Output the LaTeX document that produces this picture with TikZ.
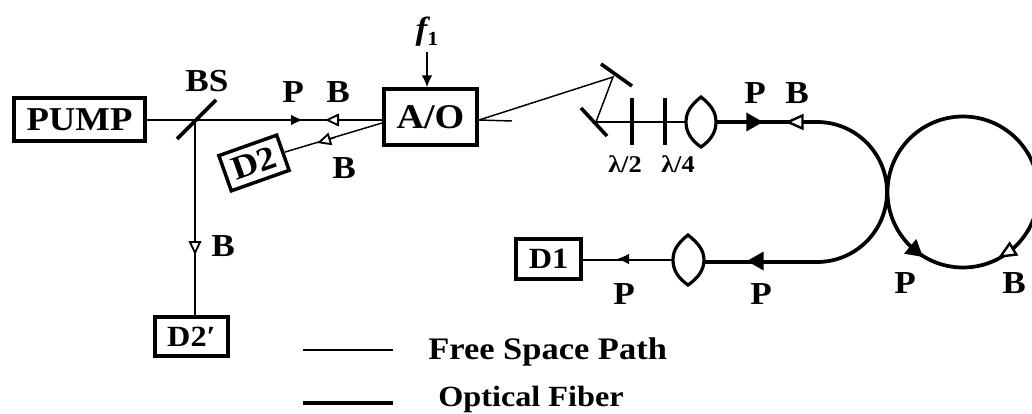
\documentclass[tikz,border=0pt]{standalone}
\usepackage{fontspec}
\setmainfont{Liberation Serif}[FakeStretch=1.1]
\usetikzlibrary{arrows.meta,calc}
\newcommand{\fs}[1]{\fontsize{#1}{#1}\selectfont}
\tikzset{
 x=0.75pt,y=-0.75pt,
 boxn/.style={draw,line width=2.6pt,inner sep=0pt,font=\bfseries\fs{25}},
 lab/.style={font=\bfseries\fs{24},inner sep=0pt},
 plate lab/.style={font=\bfseries\fs{18},inner sep=0pt},
 legend lab/.style={font=\bfseries\fs{23.5},inner sep=0pt,anchor=west},
 beam/.style={line width=1.1pt},
 fibre/.style={line width=2.8pt},
 mirror/.style={line width=2.7pt},
 lens/.style={line width=2.4pt,fill=white},
 solidthin/.style={line width=1.1pt,-{Latex[length=9pt,width=8pt]}},
 openthin/.style={line width=1.1pt,-{Triangle[length=10.5pt,width=9.5pt,fill=white,line width=1.4pt]}},
 solidthick/.style={line width=1.1pt,-{Triangle[length=12.5pt,width=14pt]}},
 openthick/.style={line width=1.1pt,-{Triangle[length=14pt,width=12pt,fill=white,line width=1.8pt]}},
}
\begin{document}
\begin{tikzpicture}
\useasboundingbox (0,0) rectangle (1032,414);
\clip (0,0) rectangle (1032,414);
% boxes
\node[boxn,minimum width=98.5pt,minimum height=32.5pt] (pump) at (79.5,119.5) {PUMP};
\node[boxn,minimum width=70pt,minimum height=42pt,font=\bfseries\fs{26}] (ao) at (430.5,117) {A/O};
\node[boxn,minimum width=46pt,minimum height=28pt,rotate=19.5,font=\bfseries\fs{25}] (d2) at (254,163) {D2};
\node[boxn,minimum width=55pt,minimum height=29.5pt,font=\bfseries\fs{22}] (d2p) at (191.5,336.5) {D2′};
\node[boxn,minimum width=49pt,minimum height=30pt,font=\bfseries\fs{22}] (d1) at (548.5,259) {D1};
% labels
\node[lab] (bslab) at (207,81) {BS};
\node[lab] (p1) at (293,92) {P};
\node[lab] (b1) at (338,92) {B};
\node[lab] (b2) at (344,168) {B};
\node[lab] (b3) at (223,246) {B};
\node[lab,font=\bfseries\itshape\fs{24}] (f1) at (427,32) {f\raisebox{-4pt}{\upshape\fs{15}1}};
\node[lab] (p2) at (755,93) {P};
\node[lab] (b4) at (797,93) {B};
\node[lab] (p3) at (624,294) {P};
\node[lab] (p4) at (761,294) {P};
\node[lab] (p5) at (905,283) {P};
\node[lab] (b5) at (1014,283) {B};
\node[plate lab] (l2) at (625,164) {λ/2};
\node[plate lab] (l4) at (678,164) {λ/4};
% beam splitter and pump beam
\coordinate (bsA) at (177,139); \coordinate (bsB) at (216,100);
\coordinate (bs) at (195,120);
\draw[mirror] (bsA) -- (bsB);
\draw[beam] (pump.east |- bs) -- (bs) -- (ao.west |- bs);
\draw[beam] (bs) -- (bs |- d2p.north);
\coordinate (sa) at (290,120); \coordinate (sb) at (303,120);
\draw[solidthin] (sa) -- (sb);
\coordinate (ha) at (339,120); \coordinate (hb) at (325,120);
\draw[openthin] (ha) -- (hb);
\draw[beam,->,>={Latex[length=9pt,width=8pt]}] (f1.south |- 0,52) -- (f1.south |- ao.north);
% D2 return
\coordinate (aod) at (382,123);
\coordinate (oa) at (335,137.5); \coordinate (ob) at (317,143);
\draw[beam] (aod) -- (d2.east);
\draw[openthin] (oa) -- (ob);
% branch arrow down to D2'
\coordinate (da) at (195,241); \coordinate (db) at (195,255);
\draw[openthin] (da) -- (db);
% A/O to mirrors
\coordinate (aoe) at (479,120); \coordinate (zero) at (512,121);
\coordinate (m1) at (613,77); \coordinate (m2) at (596,122);
\draw[beam] (aoe) -- (zero);
\draw[beam] (aoe) -- (m1) -- (m2);
\coordinate (m1a) at (601,64); \coordinate (m1b) at (632,86);
\coordinate (m2a) at (581,108); \coordinate (m2b) at (607,136);
\draw[mirror] (m1a) -- (m1b);
\draw[mirror] (m2a) -- (m2b);
\coordinate (pl1a) at (632,98); \coordinate (pl1b) at (632,145);
\coordinate (pl2a) at (665,98); \coordinate (pl2b) at (665,145);
\draw[mirror] (pl1a) -- (pl1b);
\draw[mirror] (pl2a) -- (pl2b);
\coordinate (lensL) at (686,122); \coordinate (lensR) at (717,122);
\draw[beam] (m2) -- (lensL);
% fibre
\draw[fibre] (lensR) -- (817,122) arc[start angle=-90,end angle=90,radius=70] -- (705,262);
\draw[fibre] (963,192) circle[radius=75.5];
% input lens
\draw[lens] (701,97) .. controls (691,105) and (686,112) .. (686,122) .. controls (686,132) and (691,140) .. (701,147) .. controls (711,140) and (716,132) .. (716,122) .. controls (716,112) and (711,105) .. (701,97) -- cycle;
% output lens
\coordinate (outL) at (673,260);
\draw[beam] (d1.east |- outL) -- (outL);
\draw[lens] (688,235) .. controls (678,243) and (673,250) .. (673,260) .. controls (673,270) and (678,278) .. (688,285) .. controls (698,278) and (704,270) .. (704,260) .. controls (704,250) and (698,243) .. (688,235) -- cycle;
% fibre tips
\coordinate (ta) at (746,122); \coordinate (tb) at (763,122);
\draw[solidthick] (ta) -- (tb);
\coordinate (tc) at (806,122); \coordinate (td) at (785,122);
\draw[openthick] (tc) -- (td);
\coordinate (te) at (764,261); \coordinate (tf) at (747,261);
\draw[solidthick] (te) -- (tf);
\coordinate (tg) at (629,259); \coordinate (th) at (617,259);
\draw[solidthin] (tg) -- (th);
\coordinate (ti) at (911,247); \coordinate (tj) at (923,257);
\draw[solidthick] (ti) -- (tj);
\coordinate (tk) at (1013,249); \coordinate (tl) at (998,258);
\draw[openthick] (tk) -- (tl);
% legend
\coordinate (la) at (303,350); \coordinate (lb) at (393,350);
\coordinate (lc) at (303,403); \coordinate (ld) at (393,403);
\draw[beam] (la) -- (lb);
\draw[fibre] (lc) -- (ld);
\node[legend lab] (free) at (428,352) {Free Space Path};
\node[legend lab,font=\bfseries\fs{22}] (optic) at (438,399) {Optical Fiber};
\end{tikzpicture}
\end{document}
